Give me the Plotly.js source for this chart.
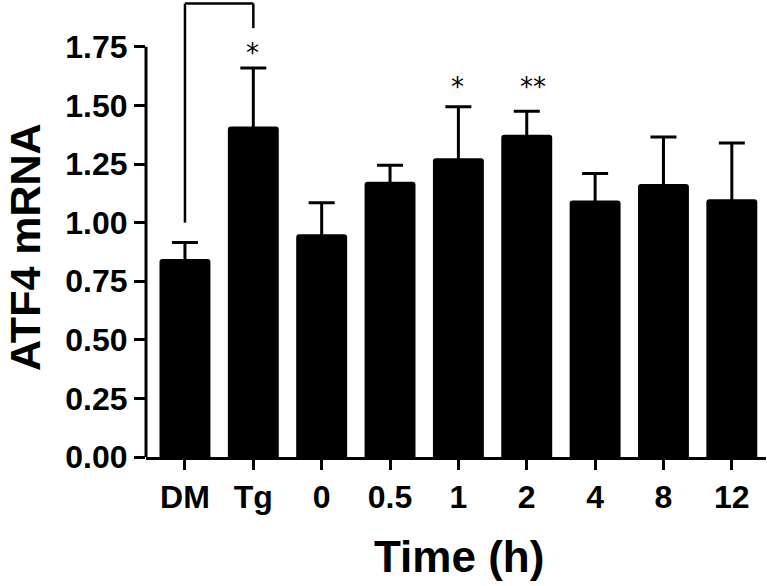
<!DOCTYPE html>
<html>
<head>
<meta charset="utf-8">
<script src="https://cdn.plot.ly/plotly-3.0.1.min.js"></script>
<style>html,body{margin:0;padding:0;background:#fff;}#chart{width:767px;height:586px;}</style>
</head>
<body>
<div id="chart"></div>
<script>
const categories = ["DM", "Tg", "0", "0.5", "1", "2", "4", "8", "12"];
const means = [0.845, 1.41, 0.95, 1.175, 1.275, 1.375, 1.095, 1.165, 1.10];
const errUpper = [0.07, 0.25, 0.135, 0.07, 0.22, 0.10, 0.115, 0.20, 0.24];
const yTicks = [0, 0.25, 0.5, 0.75, 1.0, 1.25, 1.5, 1.75];
const yTickText = ["0.00", "0.25", "0.50", "0.75", "1.00", "1.25", "1.50", "1.75"];
const starLabels = [{cat: "Tg", y: 1.725, text: "*"}, {cat: "1", y: 1.58, text: "*"}, {cat: "2", y: 1.58, text: "**"}];
const bracket = {left: "DM", right: "Tg", leftBottom: 1.0, rightBottom: 1.83, top: 1.935};

const FONT = "Arial, 'Liberation Sans', sans-serif";
const idx = c => categories.indexOf(c);

const trace = {
  type: "bar",
  x: categories,
  y: means,
  marker: {color: "#000", line: {color: "#000", width: 0}, cornerradius: 3},
  error_y: {type: "data", symmetric: true, array: errUpper,
            color: "#000", thickness: 3, width: 13},
  hoverinfo: "skip"
};

const shapes = [
  {type: "line", xref: "paper", yref: "y", x0: 0, x1: 0, y0: 0, y1: 1.75, line: {color: "#000", width: 3}},
  {type: "line", xref: "x", yref: "y", x0: idx(bracket.left), x1: idx(bracket.left), y0: bracket.leftBottom, y1: bracket.top, line: {color: "#000", width: 2.5}},
  {type: "line", xref: "x", yref: "y", x0: idx(bracket.left), x1: idx(bracket.right), y0: bracket.top, y1: bracket.top, line: {color: "#000", width: 2.5}},
  {type: "line", xref: "x", yref: "y", x0: idx(bracket.right), x1: idx(bracket.right), y0: bracket.top, y1: bracket.rightBottom, line: {color: "#000", width: 2.5}}
];

const annotations = starLabels.map(s => ({
  x: idx(s.cat), y: s.y, xref: "x", yref: "y", text: s.text, showarrow: false,
  xshift: s.text.length > 1 ? 6 : -1,
  font: {family: "'DejaVu Sans', sans-serif", size: 26, color: "#000"}
}));

annotations.push({
  xref: "paper", yref: "paper", x: (25 - 146) / 620, y: (457 - 247) / 457,
  xanchor: "center", yanchor: "middle", textangle: -90, showarrow: false, borderpad: 0,
  text: "ATF4 mRNA", font: {family: FONT, size: 43, color: "#000", weight: "bold"}
});
annotations.push({
  xref: "paper", yref: "paper", x: (458.5 - 146) / 620, y: (457 - 556) / 457,
  xanchor: "center", yanchor: "middle", showarrow: false, borderpad: 0,
  text: "Time (h)", font: {family: FONT, size: 44, color: "#000", weight: "bold"}
});

const layout = {
  width: 767, height: 586,
  margin: {l: 146, r: 1, t: 0, b: 129},
  paper_bgcolor: "#fff", plot_bgcolor: "#fff",
  showlegend: false,
  bargap: 0.255,
  font: {family: FONT, color: "#000"},
  xaxis: {
    type: "category", range: [-0.57, 8.5],
    showline: true, linecolor: "#000", linewidth: 3,
    ticks: "outside", ticklen: 10, tickwidth: 3, tickcolor: "#000",
    tickfont: {family: FONT, size: 32, color: "#000", weight: "bold"},
    showgrid: false, zeroline: false
  },
  yaxis: {
    range: [0, 1.95],
    tickvals: yTicks, ticktext: yTickText,
    showline: false,
    ticks: "outside", ticklen: 11, tickwidth: 3, tickcolor: "#000",
    tickfont: {family: FONT, size: 32, color: "#000", weight: "bold"},
    showgrid: false, zeroline: false
  },
  shapes: shapes,
  annotations: annotations
};

Plotly.newPlot("chart", [trace], layout, {displayModeBar: false, staticPlot: true});
</script>
</body>
</html>
